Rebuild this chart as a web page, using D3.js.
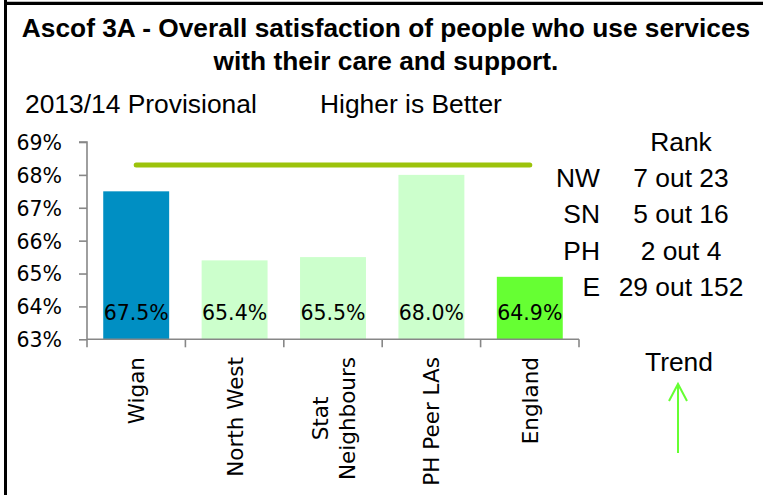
<!DOCTYPE html>
<html>
<head>
<meta charset="utf-8">
<script src="https://cdn.jsdelivr.net/npm/d3@7"></script>
<style>
  html, body { margin: 0; padding: 0; background: #fff; }
  svg { display: block; }
</style>
</head>
<body>
<svg id="chart" width="763" height="495"></svg>
<script>
// Ascof 3A – overall satisfaction, 2013/14 provisional
const categories = ["Wigan", "North West", "Stat\nNeighbours", "PH Peer LAs", "England"];
const values = [67.5, 65.4, 65.5, 68.0, 64.9];
const targetValues = [68.3, 68.3, 68.3, 68.3, 68.3];
const yTicks = [63, 64, 65, 66, 67, 68, 69];
const rankGroups = ["NW", "SN", "PH", "E"];
const rankTexts = ["7 out 23", "5 out 16", "2 out 4", "29 out 152"];
const titleLines = ["Ascof 3A - Overall satisfaction of people who use services",
                    "with their care and support."];

const svg = d3.select("#chart");
const W = 763, H = 495;
const sansFont = "'Liberation Sans', Arial, sans-serif";
const chartFont = "'DejaVu Sans', Verdana, sans-serif";
const textSize = 26.4;

// Frame (left and top edges of the panel)
svg.append("line").attr("x1", 5.5).attr("x2", 5.5).attr("y1", 0).attr("y2", H)
  .attr("stroke", "#000").attr("stroke-width", 3);
svg.append("line").attr("x1", 4).attr("x2", W).attr("y1", 3.3).attr("y2", 3.3)
  .attr("stroke", "#000").attr("stroke-width", 3.3);

// Title
svg.selectAll("text.title").data(titleLines).join("text")
  .attr("class", "title")
  .attr("x", 386).attr("y", (d, i) => 37 + i * 33)
  .attr("text-anchor", "middle")
  .attr("font-family", sansFont).attr("font-weight", "bold").attr("font-size", 26.3)
  .attr("fill", "#000").text(d => d);

svg.append("text").attr("x", 25).attr("y", 113)
  .attr("font-family", sansFont).attr("font-size", textSize).attr("fill", "#000")
  .text("2013/14 Provisional");
svg.append("text").attr("x", 320).attr("y", 113)
  .attr("font-family", sansFont).attr("font-size", textSize).attr("fill", "#000")
  .text("Higher is Better");

// Scales
const x = d3.scaleBand().domain(categories).range([87, 579])
  .paddingInner(0.33).paddingOuter(0.165);
const y = d3.scaleLinear().domain([63, 69]).range([339.3, 142]);
const color = d3.scaleOrdinal().domain(categories)
  .range(["#008fc3", "#ccffcc", "#ccffcc", "#ccffcc", "#66ff33"]);

const data = categories.map((c, i) => ({ cat: c, value: values[i], target: targetValues[i] }));

// Bars
svg.append("g").selectAll("rect").data(data).join("rect")
  .attr("x", d => x(d.cat))
  .attr("width", x.bandwidth())
  .attr("y", d => y(d.value))
  .attr("height", d => y(63) - y(d.value))
  .attr("fill", d => color(d.cat));

// Value labels inside the bars
svg.append("g").selectAll("text").data(data).join("text")
  .attr("x", d => x(d.cat) + x.bandwidth() / 2)
  .attr("y", 320)
  .attr("text-anchor", "middle")
  .attr("font-family", chartFont).attr("font-size", 20.5).attr("fill", "#000")
  .text(d => d.value.toFixed(1) + "%");

// Target line across the categories
const line = d3.line().x(d => x(d.cat) + x.bandwidth() / 2).y(d => y(d.target));
svg.append("path").datum(data).attr("d", line)
  .attr("fill", "none").attr("stroke", "#9cc30b").attr("stroke-width", 5)
  .attr("stroke-linecap", "round");

// Y axis
const axisColor = "#878787";
const yAxis = svg.append("g").attr("transform", "translate(87,0)")
  .call(d3.axisLeft(y).tickValues(yTicks).tickSize(8).tickPadding(17)
    .tickFormat(d => d + "%"));
yAxis.selectAll("path, line").attr("stroke", axisColor).attr("stroke-width", 1.6);
yAxis.select(".domain").attr("d", `M-8,${y(69)}H0V${y(63)}`);
yAxis.selectAll("text").attr("font-family", chartFont).attr("font-size", 20.5)
  .attr("fill", "#000").attr("dy", "0.36em");

// X axis with boundary ticks between categories
const xAxisG = svg.append("g");
xAxisG.append("line").attr("x1", 87).attr("x2", 579).attr("y1", y(63)).attr("y2", y(63))
  .attr("stroke", axisColor).attr("stroke-width", 1.6);
const step = x.step();
const bounds = d3.range(categories.length + 1).map(i => 87 + i * step);
xAxisG.selectAll("line.tick").data(bounds).join("line").attr("class", "tick")
  .attr("x1", d => d).attr("x2", d => d)
  .attr("y1", y(63)).attr("y2", y(63) + 8)
  .attr("stroke", axisColor).attr("stroke-width", 1.6);

// Category labels, rotated, aligned to the axis side
const labelTop = 357, lineGap = 27, labelSize = 21.5;
data.forEach(d => {
  const lines = d.cat.split("\n");
  const cx = x(d.cat) + x.bandwidth() / 2;
  const g = svg.append("g");
  const texts = g.selectAll("text").data(lines).join("text")
    .attr("font-family", chartFont).attr("font-size", labelSize).attr("fill", "#000")
    .attr("text-anchor", "middle").text(t => t);
  let maxLen = 0;
  texts.each(function () { maxLen = Math.max(maxLen, this.getComputedTextLength()); });
  const cy = labelTop + maxLen / 2;
  texts.attr("transform", (t, i) => {
    const off = (i - (lines.length - 1) / 2) * lineGap + 8;
    return `translate(${cx + off},${cy}) rotate(-90)`;
  });
});

// Rank table
svg.append("text").attr("x", 681).attr("y", 151).attr("text-anchor", "middle")
  .attr("font-family", sansFont).attr("font-size", textSize).attr("fill", "#000").text("Rank");
const rankY = d3.scalePoint().domain(rankGroups).range([187, 296]);
svg.append("g").selectAll("text").data(rankGroups).join("text")
  .attr("x", 600).attr("y", d => rankY(d)).attr("text-anchor", "end")
  .attr("font-family", sansFont).attr("font-size", textSize).attr("fill", "#000").text(d => d);
svg.append("g").selectAll("text").data(rankTexts).join("text")
  .attr("x", 681).attr("y", (d, i) => rankY(rankGroups[i])).attr("text-anchor", "middle")
  .attr("font-family", sansFont).attr("font-size", textSize).attr("fill", "#000").text(d => d);

// Trend indicator
svg.append("text").attr("x", 679).attr("y", 371).attr("text-anchor", "middle")
  .attr("font-family", sansFont).attr("font-size", textSize).attr("fill", "#000").text("Trend");
const arrow = svg.append("g").attr("stroke", "#66ff33").attr("stroke-width", 2).attr("fill", "none");
arrow.append("line").attr("x1", 678).attr("x2", 678).attr("y1", 384).attr("y2", 453);
arrow.append("path").attr("d", "M669,401L678,384L687,401");
</script>
</body>
</html>
